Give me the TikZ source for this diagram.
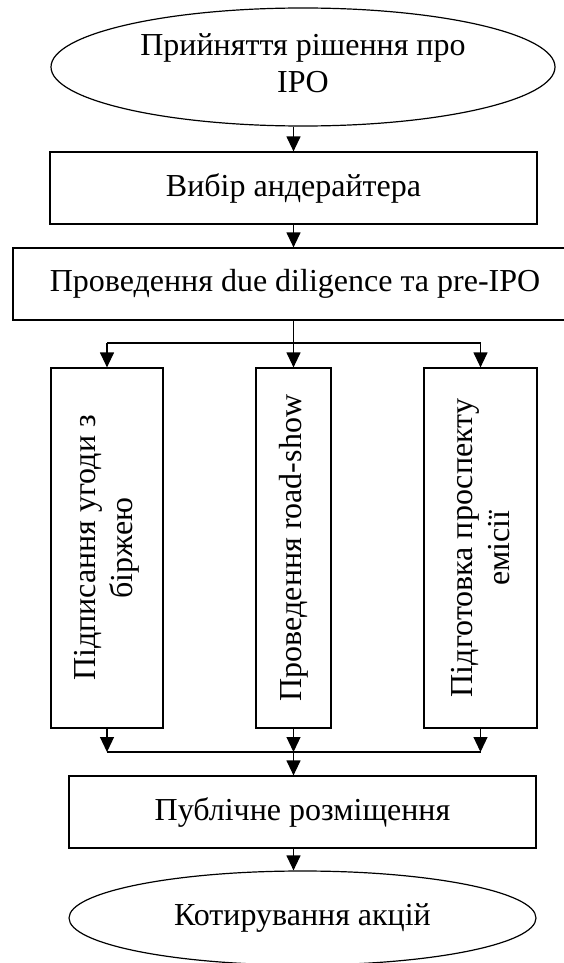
\documentclass[tikz,border=0pt]{standalone}
\usepackage{fontspec}
\setmainfont{Liberation Serif}
\usetikzlibrary{arrows.meta,shapes.geometric}
\tikzset{
  box/.style={draw, line width=1.2pt, rectangle, inner sep=0pt, align=center},
  oval/.style={draw, line width=1.2pt, ellipse, inner sep=0pt, align=center},
  arr/.style={line width=1.2pt, -{Triangle[length=15pt,width=14pt]}},
  ln/.style={line width=1.2pt}
}
\begin{document}
\begin{tikzpicture}[x=1pt,y=-1pt,font=\fontsize{32}{37}\selectfont]
\useasboundingbox (0,0) rectangle (563,963);
\node[oval, minimum width=504pt, minimum height=118pt] (e1) at (303,67) {\raisebox{-5pt}{\begin{tabular}{@{}c@{}}Прийняття рішення про\\IPO\end{tabular}}};
\node[box, minimum width=487pt, minimum height=72pt] (b2) at (293.5,188) {Вибір андерайтера};
\node[box, minimum width=564pt, minimum height=72pt] (b3) at (295,284) {Проведення due diligence та pre-IPO};
\node[box, rotate=90, minimum width=360pt, minimum height=112pt] (ba) at (107,548) {Підписання угоди з\\біржею};
\node[box, rotate=90, minimum width=360pt, minimum height=75pt] (bb) at (293.5,548) {Проведення road-show};
\node[box, rotate=90, minimum width=360pt, minimum height=113pt] (bc) at (480.5,548) {Підготовка проспекту\\емісії};
\node[box, minimum width=467pt, minimum height=72pt] (bp) at (302.5,812) {Публічне розміщення};
\node[oval, minimum width=467pt, minimum height=94pt] (e2) at (302.5,918) {Котирування акцій};
\coordinate (s1) at (293.5,343);
\coordinate (sa) at (107,343);
\coordinate (sc) at (480.5,343);
\coordinate (m1) at (293.5,752);
\coordinate (ma) at (107,752);
\coordinate (mc) at (480.5,752);
\draw[arr] (e1.south -| b2.north) -- (b2.north);
\draw[arr] (b2.south) -- (b2.south |- b3.north);
\draw[ln] (b3.south -| s1) -- (s1);
\draw[ln] (sa) -- (sc);
\draw[arr] (sa) -- (ba.east);
\draw[arr] (s1) -- (bb.east);
\draw[arr] (sc) -- (bc.east);
\draw[arr] (ba.west) -- (ma);
\draw[arr] (bb.west) -- (m1);
\draw[arr] (bc.west) -- (mc);
\draw[ln] (ma) -- (mc);
\draw[arr] (m1) -- (m1 |- bp.north);
\draw[arr] (bp.south -| m1) -- (e2.north -| m1);
\end{tikzpicture}
\end{document}
